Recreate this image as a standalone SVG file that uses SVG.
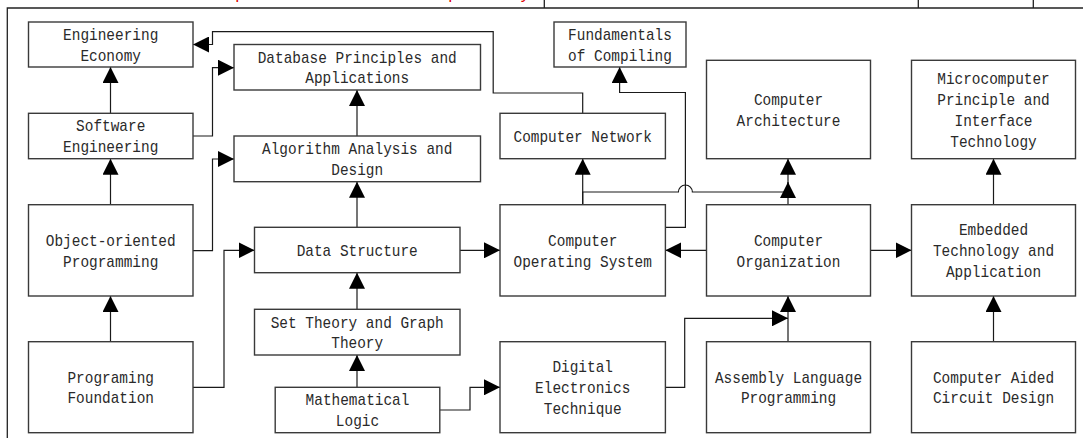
<svg xmlns="http://www.w3.org/2000/svg" width="1083" height="438" viewBox="0 0 1083 438">
<style>
.box{fill:#fff;stroke:#3a3a3a;stroke-width:1.4}
.t{font-family:"Liberation Mono","DejaVu Sans Mono",monospace;font-size:17px;fill:#2a2a2a;text-anchor:middle}
.c{fill:none;stroke:#1a1a1a;stroke-width:1.2}
.frame{fill:none;stroke:#222;stroke-width:1.3}
.red{font-family:"Liberation Mono",monospace;font-size:17px;fill:#e00000}
</style>
<defs>
<marker id="ar" markerUnits="userSpaceOnUse" markerWidth="16" markerHeight="16" refX="15" refY="7.5" orient="auto" viewBox="0 0 15 15">
<path d="M0,0 L15,7.5 L0,15 z" fill="#000"/>
</marker>
</defs>
<rect width="1083" height="438" fill="#fff"/>
<g id="frame">
<path class="frame" d="M7.3,438 V8 H1083 M544.3,0 V8 M918.3,0 V8 M1033.3,0 V8"/>
<text class="red" x="235" y="-0.8">p</text>
<text class="red" x="448" y="-0.8">p</text>
<text class="red" x="520" y="-0.8">y</text>
</g>
<g id="connectors">
<path class="c" marker-end="url(#ar)" d="M582.7,113.3 V93 H493.2 V31.7 H212.5 V44.5 H193"/>
<path class="c" marker-end="url(#ar)" d="M193,136 H212.5 V67.7 H234"/>
<path class="c" marker-end="url(#ar)" d="M193,250.7 H212.5 V159 H234"/>
<path class="c" marker-end="url(#ar)" d="M193,387.3 H224 V250.3 H254.5"/>
<path class="c" marker-end="url(#ar)" d="M460,250.3 H500"/>
<path class="c" marker-end="url(#ar)" d="M706.5,250.3 H665.4"/>
<path class="c" marker-end="url(#ar)" d="M870.5,250.3 H911.5"/>
<path class="c" marker-end="url(#ar)" d="M439.8,410 H470 V387.3 H500"/>
<path class="c" marker-end="url(#ar)" d="M665.4,387.3 H684.7 V318.3 H788"/>
<path class="c" marker-end="url(#ar)" d="M788,341.7 V296"/>
<path class="c" marker-end="url(#ar)" d="M993.5,341.7 V296"/>
<path class="c" marker-end="url(#ar)" d="M993.5,204.7 V158.7"/>
<path class="c" marker-end="url(#ar)" d="M582.7,204.7 V158.7"/>
<path class="c" marker-end="url(#ar)" d="M788,204.7 V158.7"/>
<path class="c" marker-end="url(#ar)" d="M582.7,204.7 V192 H678.4 A7,7 0 0 1 692.4,192 H788 V182"/>
<path class="c" marker-end="url(#ar)" d="M665.4,227.3 H685.4 V92.5 H619.6 V67"/>
<path class="c" marker-end="url(#ar)" d="M357,136 V90"/>
<path class="c" marker-end="url(#ar)" d="M357,227.3 V181.7"/>
<path class="c" marker-end="url(#ar)" d="M357,309.3 V272.7"/>
<path class="c" marker-end="url(#ar)" d="M357,387.3 V355"/>
<path class="c" marker-end="url(#ar)" d="M110.5,113.3 V67"/>
<path class="c" marker-end="url(#ar)" d="M110.5,204.7 V158.7"/>
<path class="c" marker-end="url(#ar)" d="M110.5,341.7 V296"/>
</g>
<g id="n-engineering-economy">
<rect class="box" x="28.5" y="22" width="164.5" height="45"/>
<text class="t" x="110.7" y="39.9" textLength="95.2" lengthAdjust="spacingAndGlyphs">Engineering</text>
<text class="t" x="110.7" y="60.7" textLength="60.6" lengthAdjust="spacingAndGlyphs">Economy</text>
</g>
<g id="n-database">
<rect class="box" x="234" y="44.5" width="246.5" height="45.5"/>
<text class="t" x="357.2" y="62.6" textLength="199" lengthAdjust="spacingAndGlyphs">Database Principles and</text>
<text class="t" x="357.2" y="83.4" textLength="103.8" lengthAdjust="spacingAndGlyphs">Applications</text>
</g>
<g id="n-software-engineering">
<rect class="box" x="28.5" y="113.3" width="164.5" height="45.4"/>
<text class="t" x="110.7" y="131.4" textLength="69.2" lengthAdjust="spacingAndGlyphs">Software</text>
<text class="t" x="110.7" y="152.2" textLength="95.2" lengthAdjust="spacingAndGlyphs">Engineering</text>
</g>
<g id="n-algorithm">
<rect class="box" x="234" y="136" width="246.5" height="45.7"/>
<text class="t" x="357.2" y="154.3" textLength="190.3" lengthAdjust="spacingAndGlyphs">Algorithm Analysis and</text>
<text class="t" x="357.2" y="175.1" textLength="51.9" lengthAdjust="spacingAndGlyphs">Design</text>
</g>
<g id="n-object-oriented">
<rect class="box" x="28.5" y="204.7" width="164.5" height="91.3"/>
<text class="t" x="110.7" y="245.7" textLength="129.8" lengthAdjust="spacingAndGlyphs">Object-oriented</text>
<text class="t" x="110.7" y="266.5" textLength="95.2" lengthAdjust="spacingAndGlyphs">Programming</text>
</g>
<g id="n-data-structure">
<rect class="box" x="254.5" y="227.3" width="205.5" height="45.4"/>
<text class="t" x="357.2" y="255.8" textLength="121.1" lengthAdjust="spacingAndGlyphs">Data Structure</text>
</g>
<g id="n-programing-foundation">
<rect class="box" x="28.5" y="341.7" width="164.5" height="91"/>
<text class="t" x="110.7" y="382.6" textLength="86.5" lengthAdjust="spacingAndGlyphs">Programing</text>
<text class="t" x="110.7" y="403.4" textLength="86.5" lengthAdjust="spacingAndGlyphs">Foundation</text>
</g>
<g id="n-set-theory">
<rect class="box" x="254.5" y="309.3" width="205.5" height="45.7"/>
<text class="t" x="357.2" y="327.6" textLength="173" lengthAdjust="spacingAndGlyphs">Set Theory and Graph</text>
<text class="t" x="357.2" y="348.4" textLength="51.9" lengthAdjust="spacingAndGlyphs">Theory</text>
</g>
<g id="n-mathematical-logic">
<rect class="box" x="275.2" y="387.3" width="164.6" height="45.4"/>
<text class="t" x="357.5" y="405.4" textLength="103.8" lengthAdjust="spacingAndGlyphs">Mathematical</text>
<text class="t" x="357.5" y="426.2" textLength="43.3" lengthAdjust="spacingAndGlyphs">Logic</text>
</g>
<g id="n-fundamentals-compiling">
<rect class="box" x="554" y="22" width="132" height="45"/>
<text class="t" x="620" y="39.9" textLength="103.8" lengthAdjust="spacingAndGlyphs">Fundamentals</text>
<text class="t" x="620" y="60.7" textLength="103.8" lengthAdjust="spacingAndGlyphs">of Compiling</text>
</g>
<g id="n-computer-network">
<rect class="box" x="500" y="113.3" width="165.4" height="45.4"/>
<text class="t" x="582.7" y="141.8" textLength="138.4" lengthAdjust="spacingAndGlyphs">Computer Network</text>
</g>
<g id="n-operating-system">
<rect class="box" x="500" y="204.7" width="165.4" height="91.3"/>
<text class="t" x="582.7" y="245.7" textLength="69.2" lengthAdjust="spacingAndGlyphs">Computer</text>
<text class="t" x="582.7" y="266.5" textLength="138.4" lengthAdjust="spacingAndGlyphs">Operating System</text>
</g>
<g id="n-digital-electronics">
<rect class="box" x="500" y="341.7" width="165.4" height="91"/>
<text class="t" x="582.7" y="372.2" textLength="60.6" lengthAdjust="spacingAndGlyphs">Digital</text>
<text class="t" x="582.7" y="393" textLength="95.2" lengthAdjust="spacingAndGlyphs">Electronics</text>
<text class="t" x="582.7" y="413.8" textLength="77.9" lengthAdjust="spacingAndGlyphs">Technique</text>
</g>
<g id="n-computer-architecture">
<rect class="box" x="706.5" y="60.3" width="164" height="98.4"/>
<text class="t" x="788.5" y="104.9" textLength="69.2" lengthAdjust="spacingAndGlyphs">Computer</text>
<text class="t" x="788.5" y="125.7" textLength="103.8" lengthAdjust="spacingAndGlyphs">Architecture</text>
</g>
<g id="n-computer-organization">
<rect class="box" x="706.5" y="204.7" width="164" height="91.3"/>
<text class="t" x="788.5" y="245.7" textLength="69.2" lengthAdjust="spacingAndGlyphs">Computer</text>
<text class="t" x="788.5" y="266.5" textLength="103.8" lengthAdjust="spacingAndGlyphs">Organization</text>
</g>
<g id="n-assembly-language">
<rect class="box" x="706.5" y="341.7" width="164" height="91"/>
<text class="t" x="788.5" y="382.6" textLength="147.1" lengthAdjust="spacingAndGlyphs">Assembly Language</text>
<text class="t" x="788.5" y="403.4" textLength="95.2" lengthAdjust="spacingAndGlyphs">Programming</text>
</g>
<g id="n-microcomputer">
<rect class="box" x="911.5" y="60.3" width="164" height="98.4"/>
<text class="t" x="993.5" y="84.3" textLength="112.5" lengthAdjust="spacingAndGlyphs">Microcomputer</text>
<text class="t" x="993.5" y="105.1" textLength="112.5" lengthAdjust="spacingAndGlyphs">Principle and</text>
<text class="t" x="993.5" y="125.9" textLength="77.9" lengthAdjust="spacingAndGlyphs">Interface</text>
<text class="t" x="993.5" y="146.7" textLength="86.5" lengthAdjust="spacingAndGlyphs">Technology</text>
</g>
<g id="n-embedded">
<rect class="box" x="911.5" y="204.7" width="164" height="91.3"/>
<text class="t" x="993.5" y="235" textLength="69.2" lengthAdjust="spacingAndGlyphs">Embedded</text>
<text class="t" x="993.5" y="255.8" textLength="121.1" lengthAdjust="spacingAndGlyphs">Technology and</text>
<text class="t" x="993.5" y="276.6" textLength="95.2" lengthAdjust="spacingAndGlyphs">Application</text>
</g>
<g id="n-circuit-design">
<rect class="box" x="911.5" y="341.7" width="164" height="91"/>
<text class="t" x="993.5" y="382.6" textLength="121.1" lengthAdjust="spacingAndGlyphs">Computer Aided</text>
<text class="t" x="993.5" y="403.4" textLength="121.1" lengthAdjust="spacingAndGlyphs">Circuit Design</text>
</g>
</svg>
